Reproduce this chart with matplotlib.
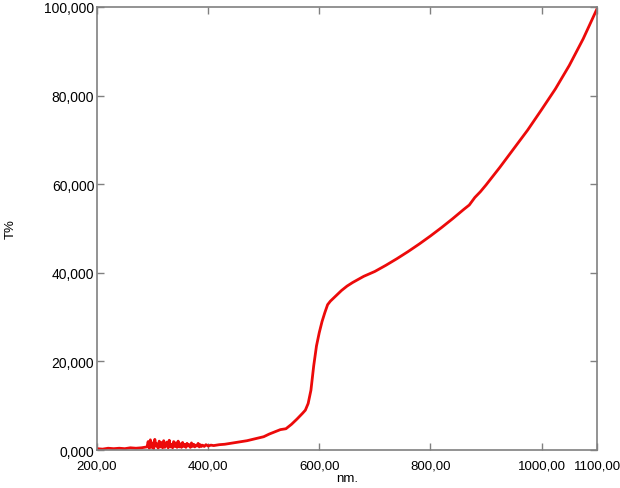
import numpy as np
import matplotlib.pyplot as plt
from matplotlib.ticker import FuncFormatter

# wavelength (nm) and transmittance (%)
nm = [200, 210, 220, 230, 240, 250, 260, 270, 280, 285,
      290, 292, 294, 296, 298, 300, 302, 304, 306, 308,
      310, 312, 314, 316, 318, 320, 322, 324, 326, 328,
      330, 332, 334, 336, 338, 340, 342, 344, 346, 348,
      350, 352, 354, 356, 358, 360, 362, 364, 366, 368,
      370, 372, 374, 376, 378, 380, 382, 384, 386, 388,
      390, 393, 396, 400, 405, 410, 420, 430, 440,
      450, 460, 470, 480, 490, 500, 510, 520, 530, 540,
      550, 560, 570, 575, 580, 585, 590, 595, 600, 605,
      610, 615, 620, 630, 640, 650, 660, 680, 700, 720,
      740, 760, 780, 800, 820, 840, 860, 870, 880, 890,
      900, 925, 950, 975, 1000, 1025, 1050, 1075, 1100]
T = [0.3, 0.2, 0.4, 0.3, 0.4, 0.3, 0.5, 0.4, 0.5, 0.6,
     0.7, 1.9, 0.4, 2.3, 0.6, 1.6, 0.3, 2.4, 0.9, 1.4,
     0.4, 2.0, 0.7, 1.7, 0.5, 2.1, 0.6, 1.5, 1.8, 0.5,
     2.2, 0.7, 1.3, 0.5, 1.9, 0.8, 1.6, 0.6, 2.0, 0.7,
     1.4, 0.6, 1.7, 0.8, 1.3, 0.6, 1.5, 0.9, 1.2, 0.6,
     1.6, 0.8, 1.3, 0.7, 1.1, 0.9, 1.5, 0.7, 1.2, 0.8,
     1.1, 0.8, 1.2, 0.9, 1.1, 1.0, 1.2, 1.3, 1.5,
     1.7, 1.9, 2.1, 2.4, 2.7, 3.0, 3.6, 4.1, 4.6, 4.8,
     5.8, 7.0, 8.3, 9.0, 10.5, 13.5, 19.0, 23.5, 26.5, 29.0,
     31.0, 32.8, 33.6, 34.8, 36.0, 37.0, 37.8, 39.2, 40.3, 41.7,
     43.2, 44.8, 46.5, 48.3, 50.2, 52.2, 54.3, 55.3, 57.0, 58.3,
     59.8, 63.8, 68.0, 72.2, 76.8, 81.5, 86.8, 92.8, 99.6]

xticks = [200, 400, 600, 800, 1000, 1100]
yticks = [0, 20, 40, 60, 80, 100]

plt.rcParams['font.family'] = ['Liberation Sans', 'DejaVu Sans']

fig = plt.figure(figsize=(6.2, 4.89), dpi=100)
ax = fig.add_axes([0.1565, 0.0777, 0.8065, 0.906])

ax.plot(nm, T, color='#ec0a0a', linewidth=2.0)

ax.set_xlim(200, 1100)
ax.set_ylim(0, 100)
ax.set_xticks(xticks)
ax.set_yticks(yticks)
ax.xaxis.set_major_formatter(FuncFormatter(lambda v, p: f"{v:.2f}".replace('.', ',')))
ax.yaxis.set_major_formatter(FuncFormatter(lambda v, p: f"{v:.3f}".replace('.', ',')))

for s in ax.spines.values():
    s.set_color('#808080')
    s.set_linewidth(1.2)
ax.tick_params(direction='in', length=5, width=1, color='#808080',
               top=True, right=True, labelsize=10)
ax.tick_params(axis='x', pad=7, labelsize=9.5)
ax.tick_params(axis='y', pad=2)

ax.set_xlabel('nm.', fontsize=9.5, labelpad=0)
ax.set_ylabel('T%', fontsize=9.5)
ax.yaxis.set_label_coords(-0.16, 0.5)

fig.savefig('out.png', dpi=100)
